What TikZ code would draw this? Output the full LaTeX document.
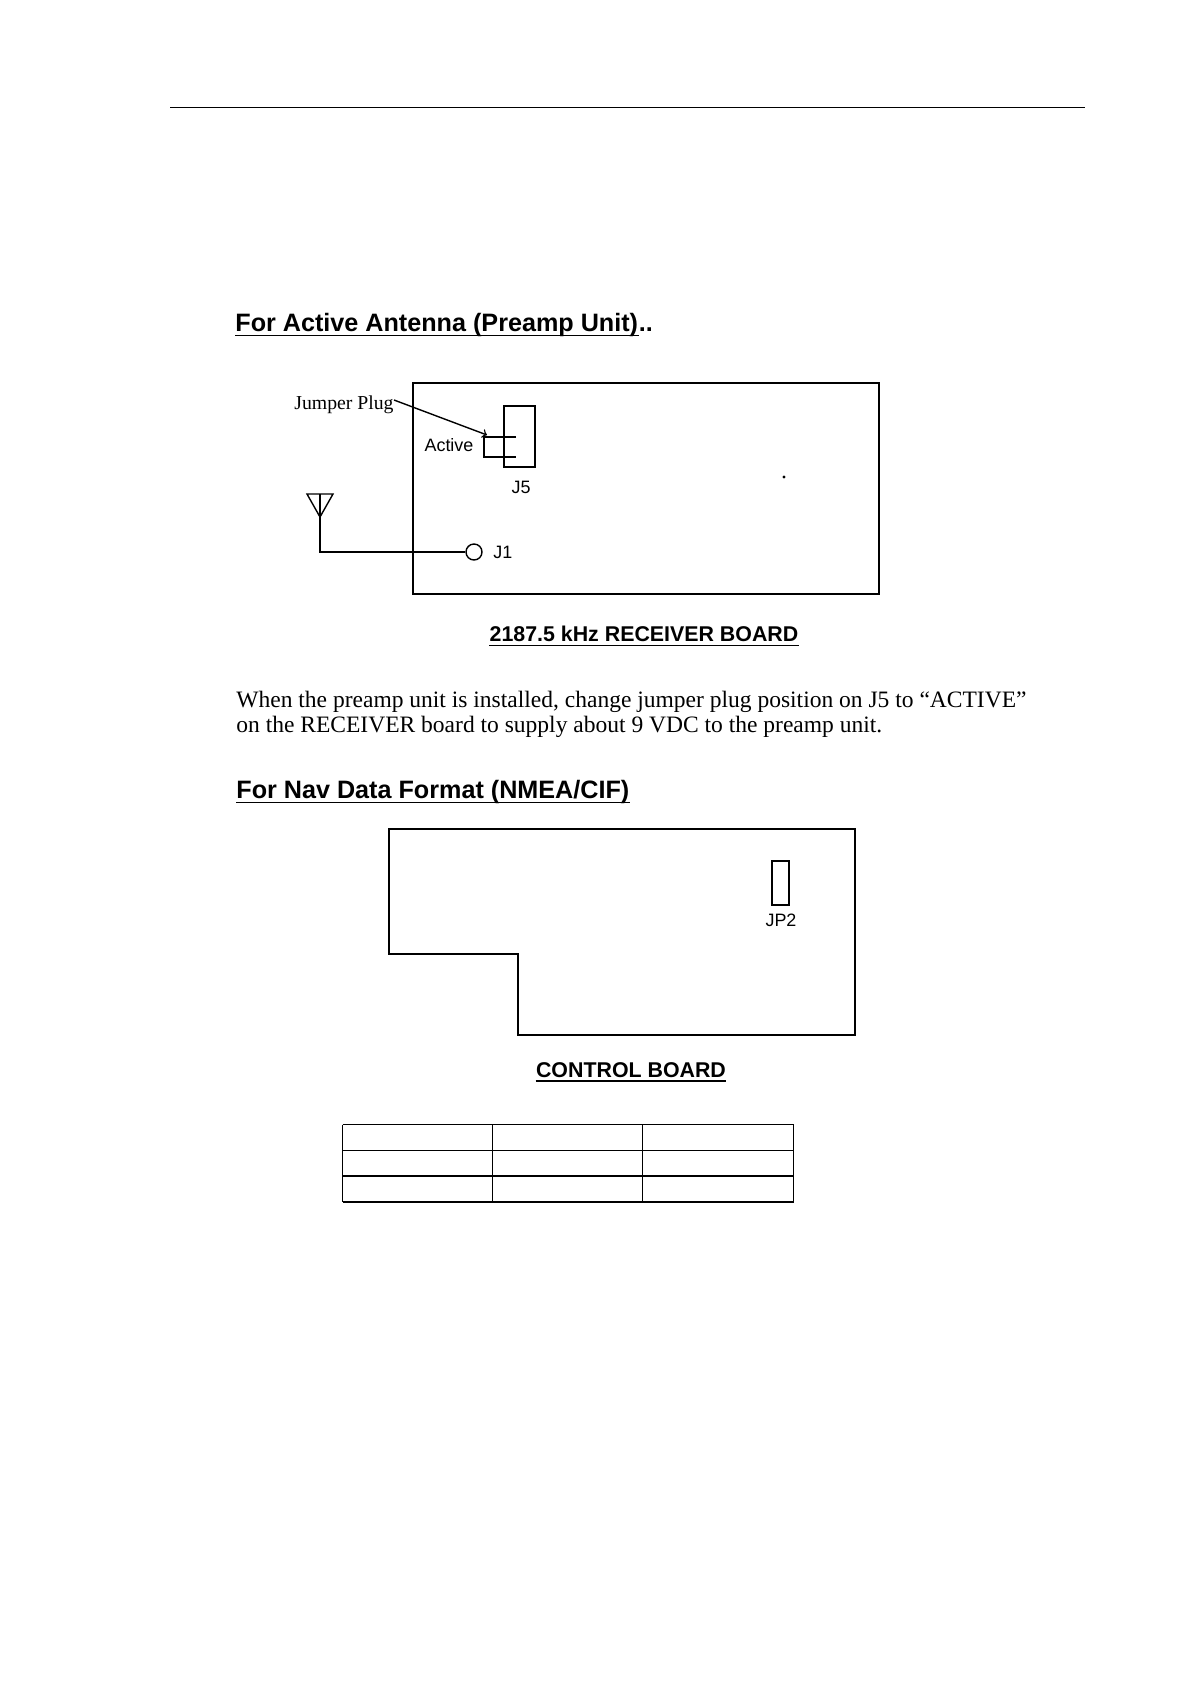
\documentclass[tikz,border=0pt]{standalone}
\usepackage{fontspec}
\setmainfont{Liberation Serif}
\setsansfont{Liberation Sans}

\begin{document}
\begin{tikzpicture}[
    x=0.5bp, y=-0.5bp,
    wire/.style={line width=0.7bp},
    gridline/.style={line width=0.6bp},
    box/.style={draw, rectangle, line width=0.7bp, inner sep=0pt},
    heading/.style={anchor=base west, inner sep=0pt, font=\sffamily\bfseries\fontsize{12.63}{14}\selectfont},
    boardname/.style={inner sep=0pt, font=\sffamily\bfseries\fontsize{10.72}{12}\selectfont},
    tag/.style={inner sep=0pt, font=\sffamily\fontsize{9}{10}\selectfont},
    bodytext/.style={anchor=base west, inner sep=0pt, font=\fontsize{11.8}{13}\selectfont},
    arrow/.style={wire, ->, >=to}
]
    \useasboundingbox (0,0) rectangle (1190,1684);
    \draw[line width=0.6bp] (170,107.5) -- (1085,107.5);

    % active antenna
    \node[heading] (headactive) at (235,331) {For Active Antenna (Preamp Unit)};
    \node[heading, anchor=base west] (headdots) at (headactive.base east) {..};
    \draw[wire] ([yshift=-2.2bp]headactive.base west) -- ([yshift=-2.2bp]headactive.base east);

    \node[box, minimum width=233bp, minimum height=105.5bp] (receiver) at (646,488.5) {};
    \node[box, minimum width=15.5bp, minimum height=30.5bp] (jfive) at (519.5,436.5) {};
    \node[inner sep=0pt, anchor=base east, font=\fontsize{9.9}{11}\selectfont] (plug) at (394,409) {Jumper Plug};
    \node[tag] (active) at (449,445) {Active};
    \node[tag] (jfivelabel) at (521,487) {J5};
    \node[draw, circle, line width=0.7bp, minimum size=8bp, inner sep=0pt] (jone) at (474,552) {};
    \node[tag, anchor=west] (jonelabel) at (493,552) {J1};
    \node[circle, fill=black, minimum size=1.6bp, inner sep=0pt] (speck) at (784,477) {};

    \coordinate (plugtop) at (516,437);
    \coordinate (plugleft) at (484,437);
    \coordinate (plugbottom) at (484,457);
    \coordinate (plugend) at (516,457);
    \draw[wire] (plugtop) -- (plugleft) -- (plugbottom) -- (plugend);
    \draw[arrow] (plug.east |- 0,400) -- (487,435);

    \coordinate (antleft) at (307,494);
    \coordinate (antright) at (333,494);
    \coordinate (anttip) at (320,517);
    \coordinate (antfoot) at (320,552);
    \draw[wire] (antleft) -- (antright) -- (anttip) -- cycle;
    \draw[wire] (320,494) -- (antfoot) -- (jone);

    \node[boardname] (receivername) at (644,634) {2187.5 kHz RECEIVER BOARD};
    \draw[wire] ([yshift=-1.8bp]receivername.base west) -- ([yshift=-1.8bp]receivername.base east);

    \node[bodytext] (lineone) at (236,707) {When the preamp unit is installed, change jumper plug position on J5 to “ACTIVE”};
    \node[bodytext] (linetwo) at (236,732) {on the RECEIVER board to supply about 9 VDC to the preamp unit.};

    % nav data format
    \node[heading] (headnav) at (236,798) {For Nav Data Format (NMEA/CIF)};
    \draw[wire] ([yshift=-2.2bp]headnav.base west) -- ([yshift=-2.2bp]headnav.base east);

    \draw[wire] (389,829) -- (855,829) -- (855,1035) -- (518,1035) -- (518,954) -- (389,954) -- cycle;
    \node[box, minimum width=8.5bp, minimum height=22bp] (jptwo) at (780.5,883) {};
    \node[tag] (jptwolabel) at (781,920) {JP2};

    \node[boardname] (controlname) at (631,1070) {CONTROL BOARD};
    \draw[wire] ([yshift=-1.8bp]controlname.base west) -- ([yshift=-1.8bp]controlname.base east);

    % empty table
    \foreach \y in {1124.5,1150.5,1176,1202}
        \draw[gridline] (342.5,\y) -- (793.5,\y);
    \foreach \x in {342.5,492.5,642.5,793.5}
        \draw[gridline] (\x,1124.5) -- (\x,1202);
\end{tikzpicture}
\end{document}
